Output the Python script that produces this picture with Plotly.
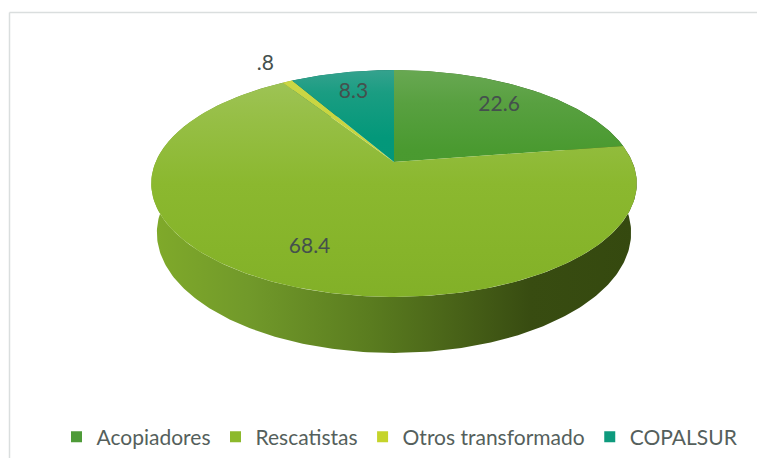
import numpy as np
import plotly.graph_objects as go

# ---------------- data ----------------
categories = ["Acopiadores", "Rescatistas", "Otros transformado", "COPALSUR"]
values = [22.6, 68.4, 0.8, 8.3]

# ---------------- styles ----------------
legend_colors = ["#4e9b38", "#8cb92c", "#c5d42b", "#0e9a7d"]
top_scales = [
    [[0, "#46952c"], [0.65, "#4a9a30"], [0.85, "#58a040"], [1, "#68a852"]],
    [[0, "#82b028"], [0.2, "#86b42a"], [0.5, "#8bb82f"], [0.8, "#97bf47"], [1, "#a0c55a"]],
    [[0, "#c0cf2c"], [1, "#cbd746"]],
    [[0, "#00947a"], [0.7, "#03987a"], [0.9, "#1a9d82"], [1, "#35a28e"]],
]
side_scales = [
    [[0, "#3f7a25"], [1, "#2a5418"]],
    [[0, "#80aa2a"], [0.2, "#71992a"], [0.45, "#5a7c1f"], [0.65, "#465f17"], [0.78, "#384c11"], [1, "#35490f"]],
    [[0, "#9aa322"], [1, "#6e7618"]],
    [[0, "#0a7a62"], [1, "#065a48"]],
]
label_color = "#44504d"
FONT = "Lato"

# 3D projection parameters (perspective view of a tilted disc)
F = 1118.0
K = 4.69
ELEV = np.deg2rad(27.3)
DEPTH = 0.235
CX, CY = 394, 162          # screen pixel position of pie apex
PAGE_W, PAGE_H = 765, 466
OFF = 8                    # default page body margin
W, H = PAGE_W - OFF, PAGE_H - 2 * OFF


def proj(theta, r, y3):
    x3 = r * np.sin(theta)
    z3 = r * np.cos(theta)
    v = y3 * np.cos(ELEV) + z3 * np.sin(ELEV)
    w = z3 * np.cos(ELEV) - y3 * np.sin(ELEV)
    return F * x3 / (K + w), F * v / (K + w)


total = sum(values)
fracs = np.array(values) / total
bounds = np.concatenate([[0], np.cumsum(fracs)]) * 2 * np.pi

fig = go.Figure()

# sides (drawn first; top faces cover the hidden parts)
order_side = [0, 3, 2, 1]
for i in order_side:
    t = np.linspace(bounds[i], bounds[i + 1], max(4, int(fracs[i] * 400)))
    xt, yt = proj(t, 1.0, 0.0)
    xb, yb = proj(t[::-1], 1.0, -DEPTH)
    xs = np.concatenate([xt, xb, xt[:1]])
    ys = np.concatenate([yt, yb, yt[:1]])
    fig.add_trace(go.Scatter(
        x=xs, y=ys, mode="lines", fill="toself", line=dict(width=0),
        fillgradient=dict(type="horizontal", colorscale=side_scales[i], start=-242, stop=243),
        hoverinfo="skip", showlegend=False))

# top faces
for i in range(len(values)):
    t = np.linspace(bounds[i], bounds[i + 1], max(4, int(fracs[i] * 400)))
    xt, yt = proj(t, 1.0, 0.0)
    xs = np.concatenate([[0], xt, [0]])
    ys = np.concatenate([[0], yt, [0]])
    fig.add_trace(go.Scatter(
        x=xs, y=ys, mode="lines", fill="toself", line=dict(width=0),
        fillgradient=dict(type="vertical", colorscale=top_scales[i], start=-135, stop=92),
        hoverinfo="skip", showlegend=False))

# data labels
lx, ly, lt = [], [], []
for i, v in enumerate(values):
    mid = (bounds[i] + bounds[i + 1]) / 2
    r = 1.25 if v < 2 else 0.75
    px, py = proj(mid, r, 0.0)
    lx.append(px)
    ly.append(py)
    s = f"{v:.1f}"
    lt.append(s[1:] if s.startswith("0") else s)
fig.add_trace(go.Scatter(
    x=lx, y=ly, mode="text", text=lt,
    textfont=dict(family=FONT, size=21, color=label_color),
    hoverinfo="skip", showlegend=False))

# legend entries
for name, col in zip(categories, legend_colors):
    fig.add_trace(go.Scatter(
        x=[None], y=[None], mode="markers", name=name,
        marker=dict(symbol="square", size=11, color=col)))

bx0 = (9.5 - OFF) / W
by0 = 1 - (12.5 - OFF) / H
fig.update_layout(
    width=W, height=H, autosize=False,
    margin=dict(l=0, r=0, t=0, b=0),
    paper_bgcolor="white", plot_bgcolor="white",
    xaxis=dict(range=[OFF - CX, OFF + W - CX], visible=False, fixedrange=True),
    yaxis=dict(range=[CY - (OFF + H), CY - OFF], visible=False, fixedrange=True),
    showlegend=True,
    legend=dict(orientation="h", x=(400 - OFF) / W, xanchor="center",
                y=(OFF + H - 437) / H, yanchor="middle",
                font=dict(family=FONT, size=21, color="#555f5c"),
                bgcolor="rgba(0,0,0,0)", itemclick=False),
    shapes=[
        dict(type="line", xref="paper", yref="paper", x0=bx0, y0=by0, x1=1, y1=by0,
             line=dict(color="#dadede", width=1.5)),
        dict(type="line", xref="paper", yref="paper", x0=bx0, y0=by0, x1=bx0, y1=0,
             line=dict(color="#dadede", width=1.5)),
    ],
)

fig.write_html("out.html")
